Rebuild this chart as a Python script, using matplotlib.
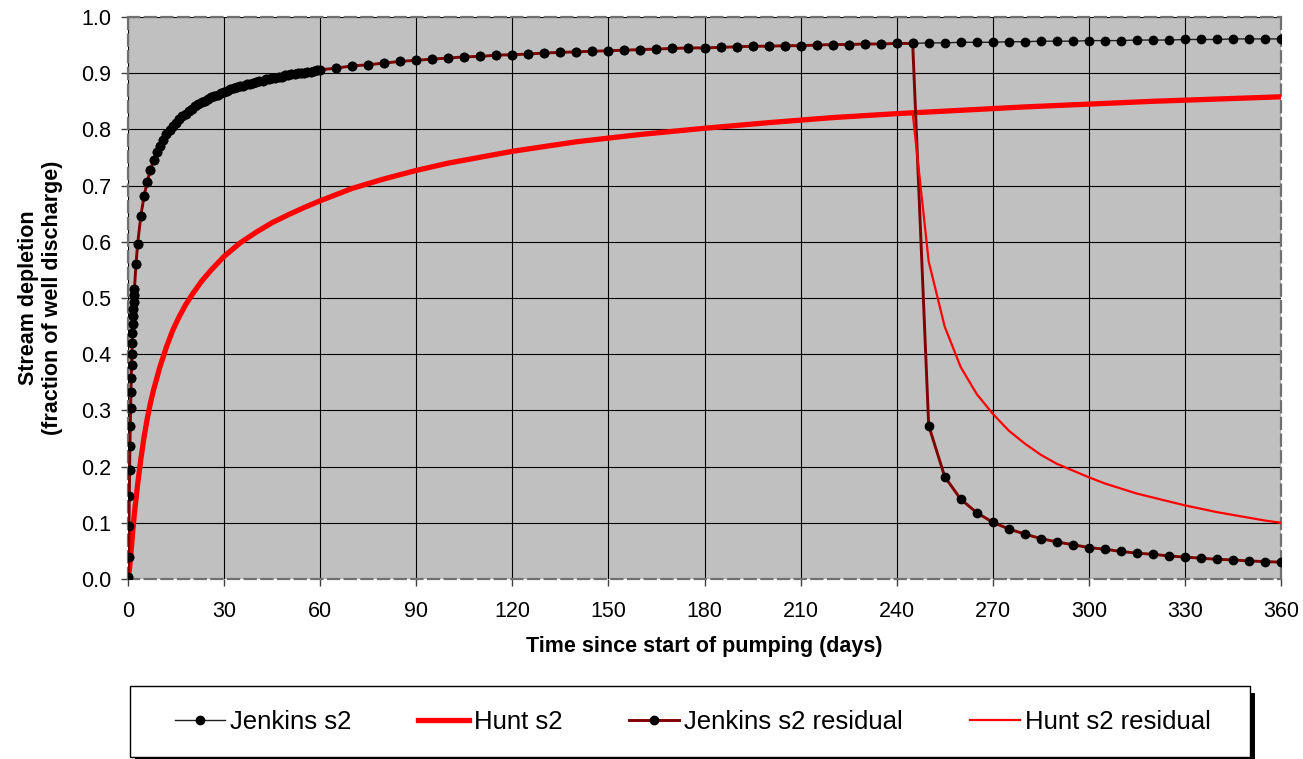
import matplotlib
matplotlib.use("Agg")
import matplotlib.pyplot as plt
from matplotlib.patches import Rectangle

plt.rcParams['font.family'] = ['Liberation Sans', 'DejaVu Sans']

# ---- data ----
# Jenkins s2: 0.1 d steps to 2 d, then 2.5, 3, daily to 60, every 5 d to 360
jenkins_days = ([0.1, 0.2, 0.3, 0.4, 0.5, 0.6, 0.7, 0.8, 0.9, 1.0,
                 1.1, 1.2, 1.3, 1.4, 1.5, 1.6, 1.7, 1.8, 1.9, 2.0, 2.5, 3]
                + list(range(4, 61)) + list(range(65, 361, 5)))
jenkins_s2 = [0.004, 0.040, 0.094, 0.147, 0.194, 0.236, 0.272, 0.304, 0.333, 0.358,
              0.381, 0.401, 0.420, 0.437, 0.453, 0.468, 0.481, 0.493, 0.505, 0.516,
              0.561, 0.596,
              # 4 .. 60
              0.646, 0.681, 0.707, 0.728, 0.745, 0.759, 0.771, 0.782, 0.791, 0.799,
              0.806, 0.812, 0.818, 0.824, 0.828, 0.833, 0.837, 0.841, 0.845, 0.848,
              0.851, 0.854, 0.857, 0.860, 0.862, 0.864, 0.867, 0.869, 0.871, 0.873,
              0.875, 0.877, 0.878, 0.880, 0.881, 0.883, 0.884, 0.886, 0.887, 0.889,
              0.890, 0.891, 0.892, 0.893, 0.894, 0.896, 0.897, 0.898, 0.899, 0.900,
              0.900, 0.901, 0.902, 0.903, 0.904, 0.905, 0.906,
              # 65 .. 360
              0.909, 0.913, 0.915, 0.918, 0.921, 0.923, 0.925, 0.927, 0.929, 0.930,
              0.932, 0.933, 0.934, 0.936, 0.937, 0.938, 0.939, 0.940, 0.941, 0.942,
              0.943, 0.944, 0.945, 0.945, 0.946, 0.947, 0.948, 0.948, 0.949, 0.949,
              0.950, 0.951, 0.951, 0.952, 0.952, 0.953, 0.953,
              0.954, 0.954, 0.955, 0.955, 0.955, 0.956, 0.956, 0.957, 0.957, 0.957,
              0.958, 0.958, 0.958, 0.959, 0.959, 0.959, 0.960, 0.960, 0.960, 0.961,
              0.961, 0.961, 0.961]

# pumping stops at day 245
stop_day = 245
resid_days = list(range(250, 361, 5))
jenkins_resid_after = [0.273, 0.182, 0.142, 0.118, 0.101, 0.089, 0.080, 0.072, 0.066,
                       0.061, 0.056, 0.053, 0.049, 0.046, 0.044, 0.041, 0.039, 0.037,
                       0.035, 0.034, 0.032, 0.031, 0.030]

hunt_days = [0, 0.5, 1, 1.5, 2, 3, 4, 5, 6, 7, 8, 10, 12, 14, 16, 18, 20, 23, 26, 30,
             35, 40, 45, 50, 55, 60, 70, 80, 90, 100, 120, 140, 160, 180, 200, 220,
             240, 260, 280, 300, 320, 340, 360]
hunt_s2 = [0.0, 0.020, 0.052, 0.087, 0.117, 0.168, 0.213, 0.252, 0.285, 0.313, 0.337,
           0.378, 0.413, 0.443, 0.467, 0.488, 0.506, 0.530, 0.550, 0.574,
           0.598, 0.617, 0.634, 0.648, 0.661, 0.673, 0.695, 0.712, 0.727, 0.740,
           0.761, 0.778, 0.791, 0.802, 0.812, 0.821, 0.828, 0.834, 0.840, 0.845,
           0.850, 0.854, 0.858]

hunt_resid_days = list(range(245, 361, 5))
hunt_resid = [0.829, 0.565, 0.449, 0.377, 0.329, 0.294, 0.264, 0.241, 0.221, 0.205,
              0.193, 0.181, 0.170, 0.161, 0.152, 0.145, 0.138, 0.131, 0.125, 0.119,
              0.114, 0.109, 0.104, 0.100]

# residual follows Jenkins s2 up to the stop, then recovers
jr_days = [d for d in jenkins_days if d <= stop_day] + resid_days
jr_vals = [v for d, v in zip(jenkins_days, jenkins_s2) if d <= stop_day] + jenkins_resid_after

# ---- figure ----
W, H = 1303, 759
fig = plt.figure(figsize=(W / 100, H / 100), dpi=100)
ax = fig.add_axes([128 / W, 1 - 579 / H, 1153 / W, 562 / H])
ax.set_facecolor('#C0C0C0')

ax.plot(jenkins_days, jenkins_s2, color='#202020', lw=1.0, marker='o', ms=6,
        mfc='black', mec='black', label='Jenkins s2', zorder=3)
ax.plot(hunt_days, hunt_s2, color='#FF0000', lw=3.8, label='Hunt s2', zorder=4)
ax.plot(jr_days, jr_vals, color='#800000', lw=2.1, marker='o', ms=6,
        mfc='black', mec='black', label='Jenkins s2 residual', zorder=5)
ax.plot(hunt_resid_days, hunt_resid, color='#FF0000', lw=1.6,
        label='Hunt s2 residual', zorder=6)

ax.set_xlim(0, 360)
ax.set_ylim(0, 1.0)
ax.set_xticks(range(0, 361, 30))
ax.set_yticks([i / 10 for i in range(11)])
ax.set_yticklabels(['%.1f' % (i / 10) for i in range(11)])
ax.grid(True, color='black', lw=0.8)
ax.set_axisbelow(True)
ax.tick_params(labelsize=15.5, direction='out', length=5, width=1,
               color='#404040')
ax.tick_params(axis='x', pad=11)
ax.tick_params(axis='y', pad=7)
for s in ax.spines.values():
    s.set_color('#707070')
    s.set_linestyle((0, (5, 2.5)))
    s.set_linewidth(1.6)

ax.set_xlabel('Time since start of pumping (days)', fontsize=15.5, fontweight='bold')
ax.xaxis.set_label_coords(0.5, (579 - 636) / 562)
ax.xaxis.label.set_va('top')
ax.set_ylabel('Stream depletion\n(fraction of well discharge)', fontsize=15.5,
              fontweight='bold')
ax.yaxis.set_label_coords((63 - 128) / 1153, 0.5)

# legend box with a black shadow
fig.patches.append(Rectangle((135 / W, 1 - 764 / H), 1120 / W, 71 / H,
                             transform=fig.transFigure, facecolor='black',
                             edgecolor='none', zorder=0))
fig.patches.append(Rectangle((130 / W, 1 - 757 / H), 1120 / W, 71 / H,
                             transform=fig.transFigure, facecolor='white',
                             edgecolor='black', lw=1, zorder=1))
fig.legend(loc='center', bbox_to_anchor=(693 / W, 1 - 722 / H), ncol=4,
           frameon=False, fontsize=18.5, handlelength=1.95, handletextpad=0.2,
           columnspacing=2.6, numpoints=1)

fig.savefig('out.png', dpi=100)
